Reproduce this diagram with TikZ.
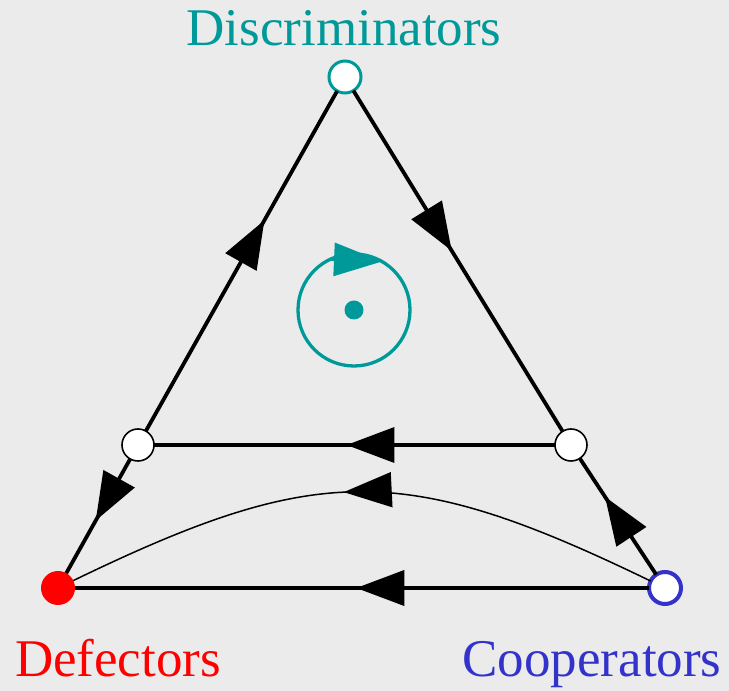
\documentclass[tikz,border=0pt]{standalone}
\usepackage{fontspec}
\setmainfont{Liberation Serif}
\usetikzlibrary{arrows.meta, decorations.markings}
\definecolor{discteal}{HTML}{009999}
\definecolor{coopblue}{HTML}{3333CC}
\definecolor{defred}{HTML}{FF0000}
\definecolor{bggray}{HTML}{EBEBEB}

\begin{document}
\begin{tikzpicture}[
    x=1pt, y=1pt,
    every node/.style={inner sep=0pt, outer sep=0pt},
    lbl/.style={font=\fontsize{53}{63}\selectfont, anchor=base, text=#1},
    vertex/.style={circle, draw=#1, fill=white, minimum size=32pt},
    vertex/.default=black,
    edge/.style={line width=3.8pt, line cap=butt},
    flow/.style={line width=1.5pt},
    midarrow/.style={postaction={decorate}, decoration={markings,
        mark=at position #1 with {\arrow{Triangle[length=48pt, width=35pt]}}}},
]

% Background
\fill[bggray] (0,0) rectangle (729,691);
\useasboundingbox (0,0) rectangle (729,691);

% Corners
\node[vertex=discteal, line width=3pt] (disc) at (345,614) {};
\node[circle, fill=defred, minimum size=34pt] (def) at (58,103) {};
\node[vertex=coopblue, line width=4pt] (coop) at (665,103) {};

% Edge fixed points
\node[vertex, line width=1.6pt] (left) at (138,246) {};
\node[vertex, line width=1.6pt] (right) at (571,246) {};

% Labels
\node[lbl=discteal] (disclbl) at (344,645) {Discriminators};
\node[lbl=defred] (deflbl) at (118,14) {Defectors};
\node[lbl=coopblue] (cooplbl) at (592,14) {Cooperators};

% Edges
\draw[edge, midarrow=0.62] (left) -- (disc);
\draw[edge, midarrow=0.47] (disc) -- (right);
\draw[edge, midarrow=0.52] (right) -- (left);
\draw[edge, midarrow=0.54] (left) -- (def);
\draw[edge, midarrow=0.67] (coop) -- (right);
\draw[edge, midarrow=0.51] (coop) -- (def);

% Interior orbit
\draw[flow, midarrow=0.53] (coop) .. controls (405,229) and (318,229) .. (def);
\node[circle, draw=discteal, line width=3.3pt, minimum size=112pt] (orbit) at (354,381) {};
\node[circle, fill=discteal, minimum size=19pt] (fix) at (354,381) {};
\draw[discteal, line width=3pt, -{Triangle[length=48pt, width=33pt]}] (orbit.115) -- (orbit.60);

\end{tikzpicture}
\end{document}
